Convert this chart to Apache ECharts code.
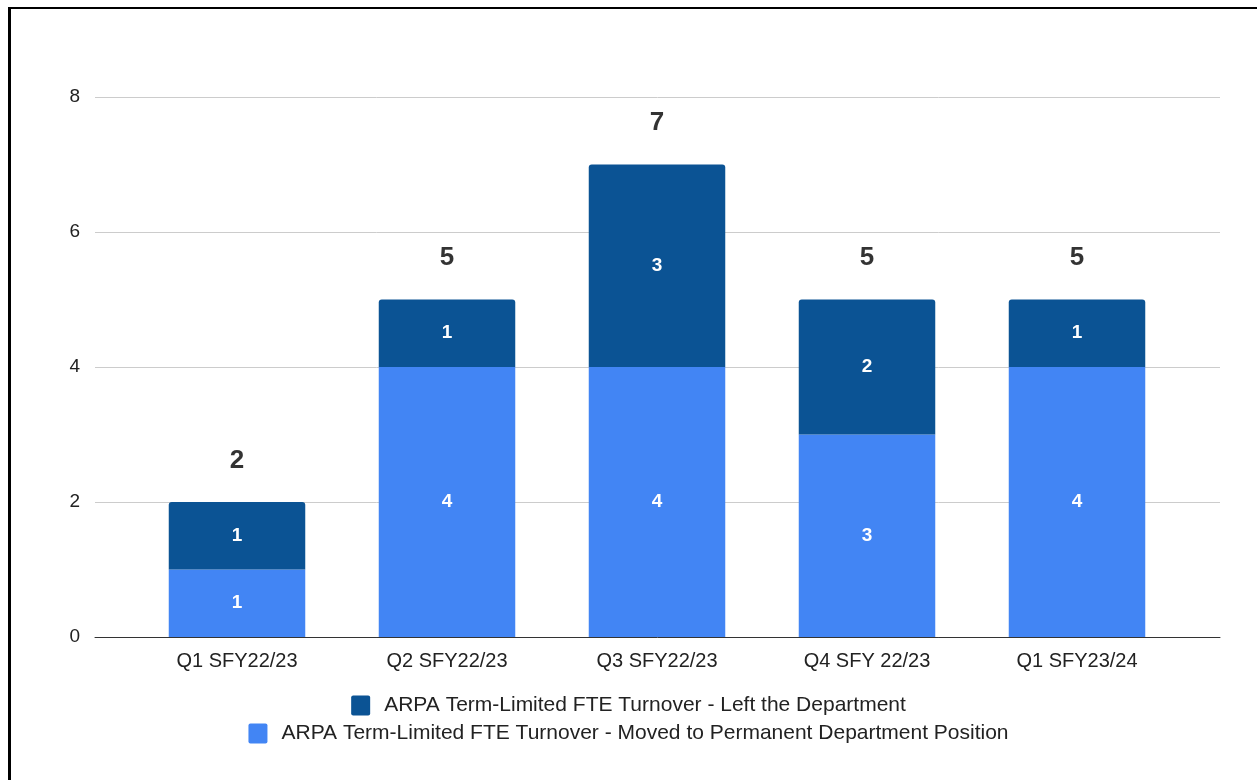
<!DOCTYPE html>
<html>
<head>
<meta charset="utf-8">
<script src="https://cdn.jsdelivr.net/npm/echarts@6/dist/echarts.min.js"></script>
<style>
    html, body { margin: 0; padding: 0; background: #fff; overflow: hidden; }
    #frame {
        position: absolute; left: 8px; top: 7px;
        width: 1400px; height: 900px;
        border-top: 2px solid #000; border-left: 3px solid #000;
    }
    #main { position: absolute; left: 0; top: 0; width: 1257px; height: 780px; }
</style>
</head>
<body>
<div id="frame"></div>
<div id="main"></div>
<script>
(function () {
    var categories = ["Q1 SFY22/23", "Q2 SFY22/23", "Q3 SFY22/23", "Q4 SFY 22/23", "Q1 SFY23/24"];
    var moved = [1, 4, 4, 3, 4]; // 转为正式岗位
    var left = [1, 1, 3, 2, 1];  // 离开部门
    var seriesNames = [
        "ARPA Term-Limited FTE Turnover - Left the Department",
        "ARPA Term-Limited FTE Turnover - Moved to Permanent Department Position"
    ];
    var totals = moved.map(function (v, i) { return v + left[i]; });

    var myChart = echarts.init(document.getElementById('main'));
    var font = 'Arial, "Liberation Sans", sans-serif';
    var legendText = { color: '#222', fontSize: 21, fontFamily: font, padding: [0, 0, 0, 9] };
    var legendIcon = 'path://M2,0 H17 Q19,0 19,2 V18 Q19,20 17,20 H2 Q0,20 0,18 V2 Q0,0 2,0 Z';

    var option = {
        animation: false,
        // grid 0: 网格线和坐标轴线, grid 1: 柱子
        grid: [
            { left: 95, right: 37, top: 97, bottom: 143 },
            { left: 132, right: 75, top: 97, bottom: 143 }
        ],
        legend: [
            {
                data: [seriesNames[0]],
                left: 'center', top: 690,
                itemWidth: 19, itemHeight: 20,
                icon: legendIcon,
                textStyle: legendText
            },
            {
                data: [seriesNames[1]],
                left: 'center', top: 718,
                itemWidth: 19, itemHeight: 20,
                icon: legendIcon,
                textStyle: legendText
            }
        ],
        xAxis: [
            {
                gridIndex: 0,
                type: 'value', min: 0, max: 1,
                axisTick: { show: false },
                axisLabel: { show: false },
                splitLine: { show: false },
                axisLine: { show: true, lineStyle: { color: '#333', width: 1 } }
            },
            {
                gridIndex: 1,
                type: 'category',
                data: categories,
                axisTick: { show: false },
                axisLine: { show: false },
                axisLabel: { color: '#222', fontSize: 20, fontFamily: font, margin: 14 }
            }
        ],
        yAxis: [
            {
                gridIndex: 0,
                type: 'value',
                min: 0, max: 8, interval: 2,
                axisLine: { show: false },
                axisTick: { show: false },
                axisLabel: { color: '#222', fontSize: 19, fontFamily: font, margin: 15 },
                splitLine: { lineStyle: { color: '#ccc' } }
            },
            {
                gridIndex: 1,
                type: 'value',
                min: 0, max: 8, interval: 2,
                show: false,
                splitLine: { show: false }
            }
        ],
        series: [
            {
                name: seriesNames[1],
                type: 'bar',
                xAxisIndex: 1, yAxisIndex: 1,
                stack: 'total',
                barWidth: '65%',
                data: moved,
                itemStyle: { color: '#4285f4' },
                label: {
                    show: true, position: 'inside',
                    color: '#fff', fontSize: 19, fontWeight: 'bold', fontFamily: font
                }
            },
            {
                name: seriesNames[0],
                type: 'bar',
                xAxisIndex: 1, yAxisIndex: 1,
                stack: 'total',
                data: left,
                itemStyle: { color: '#0b5394', borderRadius: [3, 3, 0, 0] },
                label: {
                    show: true, position: 'inside',
                    color: '#fff', fontSize: 19, fontWeight: 'bold', fontFamily: font
                }
            },
            {
                // 总数标签
                name: 'total',
                type: 'scatter',
                xAxisIndex: 1, yAxisIndex: 1,
                data: totals,
                symbolSize: 1,
                itemStyle: { color: 'rgba(0,0,0,0)' },
                label: {
                    show: true, position: 'top', distance: 28,
                    color: '#000', fontSize: 26, fontWeight: 'bold', fontFamily: font,
                    formatter: function (p) { return p.value; }
                },
                silent: true
            }
        ]
    };
    myChart.setOption(option);
    window.addEventListener("resize", function () {
        myChart.resize();
    });
})();
</script>
</body>
</html>
